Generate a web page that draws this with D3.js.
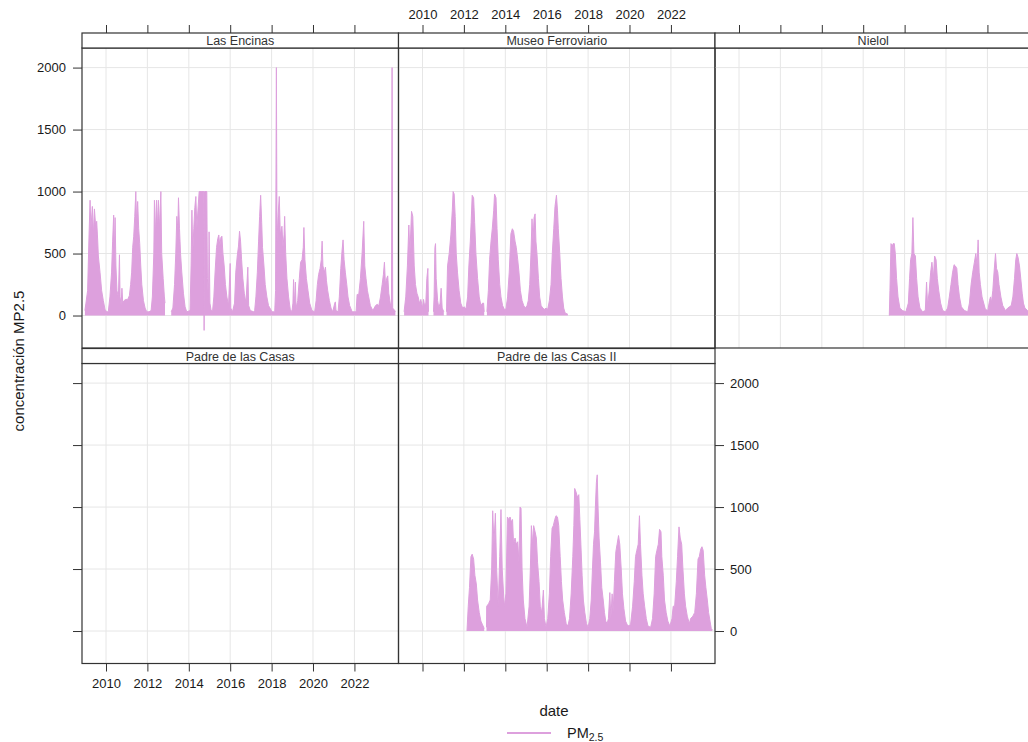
<!DOCTYPE html>
<html>
<head>
<meta charset="utf-8">
<script src="https://cdn.jsdelivr.net/npm/d3@7"></script>
<style>
  html, body { margin: 0; padding: 0; background: #fff; }
  svg { display: block; font-family: "Liberation Sans", Arial, Helvetica, sans-serif; }
</style>
</head>
<body>
<svg id="chart" width="1028" height="742"></svg>
<script>
// ---------------- DATA ----------------
const stationNames = ["Las Encinas", "Museo Ferroviario", "Nielol", "Padre de las Casas", "Padre de las Casas II"];
const xTickYears = [2010, 2012, 2014, 2016, 2018, 2020, 2022];
const yTickValues = [0, 500, 1000, 1500, 2000];
const seriesName = "PM";
const seriesSub = "2.5";
const yAxisTitle = "concentración MP2.5";
const xAxisTitle = "date";

// [decimal year, PM2.5] ; null = missing data
const lasEncinas = [
  [2008.98,40],[2009.03,100],[2009.11,200],[2009.18,650],[2009.23,930],[2009.27,700],[2009.34,880],[2009.39,650],
  [2009.44,860],[2009.50,720],[2009.55,760],[2009.60,600],[2009.63,480],[2009.71,350],[2009.79,200],[2009.87,120],
  [2009.95,50],[2010.03,30],[2010.11,30],[2010.19,150],[2010.27,350],[2010.32,600],[2010.37,810],[2010.40,500],
  [2010.44,790],[2010.48,400],[2010.53,200],[2010.60,150],[2010.65,490],[2010.68,150],[2010.73,80],[2010.77,220],
  [2010.81,100],[2010.87,120],[2010.95,130],[2011.05,130],[2011.13,160],[2011.19,250],[2011.24,350],[2011.29,550],
  [2011.34,640],[2011.39,800],[2011.44,1000],[2011.48,750],[2011.53,920],[2011.58,700],[2011.63,580],[2011.68,400],
  [2011.73,250],[2011.81,120],[2011.89,60],[2011.97,30],[2012.08,30],[2012.18,40],[2012.24,150],[2012.31,500],
  [2012.34,930],[2012.39,650],[2012.44,930],[2012.48,700],[2012.53,930],[2012.58,700],[2012.65,1000],[2012.69,500],
  [2012.76,300],[2012.82,150],[2012.85,100],[2012.86,null],[2013.15,30],[2013.23,60],[2013.31,250],[2013.37,500],
  [2013.42,800],[2013.47,700],[2013.50,950],[2013.55,700],[2013.60,500],[2013.66,350],[2013.74,180],[2013.82,70],
  [2013.90,30],[2014.06,40],[2014.11,400],[2014.15,850],[2014.19,500],[2014.24,700],[2014.29,870],[2014.34,960],
  [2014.39,700],[2014.44,850],[2014.50,1000],[2014.63,1000],[2014.73,1000],[2014.74,-120],[2014.76,1000],[2014.87,1000],
  [2014.90,300],[2014.95,120],[2014.98,675],[2015.02,100],[2015.08,40],[2015.15,40],[2015.21,150],[2015.27,350],
  [2015.34,550],[2015.40,620],[2015.45,650],[2015.50,560],[2015.55,630],[2015.60,640],[2015.65,500],[2015.71,400],
  [2015.77,250],[2015.84,150],[2015.92,80],[2016.00,420],[2016.03,60],[2016.11,30],[2016.21,100],[2016.27,350],
  [2016.34,480],[2016.40,560],[2016.45,680],[2016.50,600],[2016.55,450],[2016.61,300],[2016.68,180],[2016.76,100],
  [2016.85,390],[2016.89,80],[2016.97,40],[2017.13,30],[2017.18,40],[2017.24,150],[2017.31,350],[2017.37,600],
  [2017.42,800],[2017.47,970],[2017.52,750],[2017.56,550],[2017.63,400],[2017.69,250],[2017.77,150],[2017.85,80],
  [2018.02,30],[2018.15,30],[2018.19,200],[2018.23,2000],[2018.26,600],[2018.31,800],[2018.37,960],[2018.42,650],
  [2018.47,700],[2018.50,720],[2018.55,550],[2018.60,650],[2018.63,800],[2018.68,500],[2018.74,300],[2018.82,150],
  [2018.90,50],[2018.98,30],[2019.03,100],[2019.06,290],[2019.10,80],[2019.15,270],[2019.18,60],[2019.26,120],
  [2019.34,300],[2019.40,430],[2019.47,450],[2019.53,550],[2019.56,710],[2019.61,450],[2019.68,300],[2019.76,200],
  [2019.84,100],[2019.95,40],[2020.08,30],[2020.15,120],[2020.21,250],[2020.27,330],[2020.34,380],[2020.40,450],
  [2020.44,600],[2020.48,400],[2020.55,350],[2020.60,390],[2020.65,280],[2020.71,200],[2020.79,120],[2020.87,60],
  [2020.95,30],[2021.05,100],[2021.08,110],[2021.11,40],[2021.21,30],[2021.27,150],[2021.34,380],[2021.40,520],
  [2021.45,610],[2021.50,450],[2021.56,350],[2021.63,250],[2021.69,150],[2021.77,80],[2021.89,30],[2022.08,30],
  [2022.13,170],[2022.21,170],[2022.29,300],[2022.37,500],[2022.45,760],[2022.50,400],[2022.56,300],[2022.63,200],
  [2022.69,150],[2022.77,80],[2022.89,40],[2023.02,80],[2023.10,90],[2023.18,80],[2023.26,150],[2023.34,250],
  [2023.40,330],[2023.45,430],[2023.50,250],[2023.56,300],[2023.61,320],[2023.66,180],[2023.73,100],[2023.79,60],
  [2023.82,2000],[2023.85,60],[2023.95,40],[2023.98,30]
];

const museoFerroviario = [
  [2009.11,30],[2009.19,150],[2009.27,400],[2009.34,730],[2009.39,500],[2009.47,840],[2009.53,800],[2009.60,400],
  [2009.66,250],[2009.73,180],[2009.79,150],[2009.85,100],[2009.92,130],[2010.00,60],[2010.05,130],[2010.10,80],
  [2010.16,100],[2010.21,300],[2010.26,380],[2010.29,30],[2010.30,null],[2010.53,30],[2010.56,150],[2010.60,550],
  [2010.63,580],[2010.66,300],[2010.73,120],[2010.79,60],[2010.85,100],[2010.90,220],[2010.95,60],[2011.03,30],
  [2011.04,null],[2011.16,30],[2011.21,400],[2011.29,500],[2011.37,650],[2011.44,850],[2011.48,1000],[2011.53,980],
  [2011.58,800],[2011.63,500],[2011.69,350],[2011.77,200],[2011.85,100],[2011.94,60],[2012.02,70],[2012.10,50],
  [2012.18,150],[2012.24,400],[2012.31,600],[2012.35,750],[2012.40,970],[2012.47,950],[2012.52,750],[2012.58,500],
  [2012.66,300],[2012.74,150],[2012.82,80],[2012.90,100],[2012.95,100],[2012.98,30],[2012.99,null],[2013.11,30],
  [2013.18,200],[2013.24,450],[2013.31,600],[2013.37,700],[2013.44,850],[2013.48,980],[2013.55,950],[2013.60,700],
  [2013.66,450],[2013.73,250],[2013.79,150],[2013.87,80],[2013.95,50],[2014.03,50],[2014.11,150],[2014.19,350],
  [2014.27,660],[2014.34,700],[2014.40,680],[2014.47,600],[2014.53,550],[2014.60,450],[2014.66,350],[2014.73,200],
  [2014.81,120],[2014.89,80],[2014.97,60],[2015.05,80],[2015.11,120],[2015.18,250],[2015.24,500],[2015.29,780],
  [2015.34,600],[2015.39,790],[2015.44,820],[2015.48,600],[2015.53,500],[2015.60,300],[2015.66,150],[2015.73,80],
  [2015.81,60],[2015.89,50],[2015.97,60],[2016.05,50],[2016.13,120],[2016.21,250],[2016.27,500],[2016.34,700],
  [2016.40,880],[2016.47,970],[2016.52,850],[2016.56,700],[2016.63,500],[2016.69,300],[2016.76,150],[2016.82,60],
  [2016.89,20],[2017.02,10]
];

const nielol = [
  [2017.26,0],[2017.29,200],[2017.34,580],[2017.40,560],[2017.45,580],[2017.50,580],[2017.55,500],[2017.61,300],
  [2017.68,150],[2017.77,60],[2017.90,40],[2018.06,30],[2018.18,100],[2018.24,300],[2018.29,450],[2018.35,500],
  [2018.40,790],[2018.45,500],[2018.52,480],[2018.58,300],[2018.65,150],[2018.74,60],[2018.87,30],[2019.00,40],
  [2019.06,270],[2019.11,80],[2019.19,200],[2019.26,350],[2019.32,430],[2019.39,300],[2019.45,480],[2019.52,450],
  [2019.58,300],[2019.65,200],[2019.74,100],[2019.84,40],[2019.97,30],[2020.08,60],[2020.16,150],[2020.24,250],
  [2020.32,350],[2020.39,410],[2020.45,400],[2020.52,380],[2020.58,250],[2020.65,150],[2020.74,70],[2020.89,40],
  [2021.05,30],[2021.13,100],[2021.21,250],[2021.29,350],[2021.37,430],[2021.44,500],[2021.50,400],[2021.55,610],
  [2021.60,350],[2021.66,250],[2021.74,150],[2021.82,100],[2021.90,50],[2022.02,40],[2022.10,120],[2022.15,150],
  [2022.19,100],[2022.26,200],[2022.32,350],[2022.39,500],[2022.44,380],[2022.50,350],[2022.56,250],[2022.65,150],
  [2022.74,80],[2022.87,40],[2022.98,60],[2023.06,70],[2023.15,80],[2023.23,150],[2023.31,300],[2023.37,450],
  [2023.42,500],[2023.48,470],[2023.55,400],[2023.61,300],[2023.68,180],[2023.74,100],[2023.81,60],[2023.94,40],
  [2024.00,30]
];

const padreDeLasCasas = [];

const padreDeLasCasasII = [
  [2012.15,0],[2012.21,200],[2012.27,350],[2012.34,600],[2012.40,620],[2012.47,580],[2012.53,450],[2012.60,380],
  [2012.66,250],[2012.74,150],[2012.82,80],[2012.90,50],[2012.98,20],[2012.99,null],[2013.09,30],[2013.10,200],
  [2013.19,220],[2013.27,250],[2013.34,500],[2013.39,970],[2013.45,700],[2013.52,950],[2013.58,500],[2013.66,200],
  [2013.73,600],[2013.79,980],[2013.85,500],[2013.95,200],[2014.03,300],[2014.10,920],[2014.16,900],[2014.23,920],
  [2014.29,880],[2014.35,900],[2014.40,700],[2014.47,750],[2014.53,700],[2014.60,720],[2014.66,550],[2014.71,1000],
  [2014.76,990],[2014.81,500],[2014.87,250],[2014.95,100],[2015.05,30],[2015.15,200],[2015.21,500],[2015.26,850],
  [2015.31,700],[2015.37,850],[2015.44,800],[2015.50,750],[2015.56,550],[2015.63,400],[2015.69,200],[2015.76,150],
  [2015.84,330],[2015.89,100],[2015.97,30],[2016.05,100],[2016.13,300],[2016.19,600],[2016.26,830],[2016.32,850],
  [2016.39,900],[2016.45,930],[2016.52,920],[2016.58,850],[2016.65,600],[2016.71,400],[2016.77,250],[2016.85,150],
  [2016.94,60],[2017.02,40],[2017.10,100],[2017.18,300],[2017.26,600],[2017.31,850],[2017.35,1150],[2017.42,1120],
  [2017.48,1080],[2017.55,1100],[2017.60,900],[2017.65,700],[2017.71,450],[2017.77,250],[2017.84,150],[2017.92,60],
  [2018.00,30],[2018.08,100],[2018.15,250],[2018.21,500],[2018.26,700],[2018.31,800],[2018.35,1000],[2018.40,1200],
  [2018.44,1260],[2018.48,1000],[2018.53,750],[2018.60,550],[2018.66,350],[2018.73,250],[2018.79,150],[2018.85,80],
  [2018.92,60],[2018.98,100],[2019.05,310],[2019.10,100],[2019.16,300],[2019.21,150],[2019.27,400],[2019.34,640],
  [2019.40,700],[2019.47,770],[2019.53,700],[2019.60,500],[2019.66,300],[2019.73,180],[2019.81,80],[2019.92,40],
  [2020.05,50],[2020.15,200],[2020.23,400],[2020.29,600],[2020.35,650],[2020.42,700],[2020.48,930],[2020.53,700],
  [2020.60,450],[2020.66,300],[2020.73,200],[2020.81,100],[2020.89,40],[2021.02,30],[2021.11,100],[2021.19,300],
  [2021.26,600],[2021.32,650],[2021.39,700],[2021.45,820],[2021.52,800],[2021.56,600],[2021.63,450],[2021.69,250],
  [2021.77,150],[2021.85,80],[2021.95,40],[2022.05,100],[2022.11,200],[2022.18,200],[2022.26,400],[2022.32,600],
  [2022.39,840],[2022.45,750],[2022.52,700],[2022.58,500],[2022.65,300],[2022.71,200],[2022.79,120],[2022.89,60],
  [2022.95,100],[2023.06,120],[2023.15,150],[2023.23,300],[2023.31,580],[2023.37,600],[2023.44,660],[2023.50,680],
  [2023.56,650],[2023.63,450],[2023.69,350],[2023.76,250],[2023.82,150],[2023.89,80],[2023.95,20],[2024.00,10]
];

const stationSeries = [lasEncinas, museoFerroviario, nielol, padreDeLasCasas, padreDeLasCasasII];

// ---------------- LAYOUT ----------------
const plumColor = "#DDA0DD";
const panelW = 316.5, panelH = 300, stripH = 15;
const colLeft = c => 82 + c * panelW;
const rowTop = r => 33 + r * 315.5;        // strip top
const panelCells = [[0,0],[0,1],[0,2],[1,0],[1,1]]; // [row, col]

const toDate = d => {
  const yr = Math.floor(d);
  const s = Date.UTC(yr, 0, 1), e = Date.UTC(yr + 1, 0, 1);
  return new Date(s + (d - yr) * (e - s));
};

const x = d3.scaleUtc().domain([toDate(2008.84), toDate(2024.13)]).range([0, panelW]);
const y = d3.scaleLinear().domain([-262, 2158]).range([panelH, 0]);
const xTickDates = xTickYears.map(yr => new Date(Date.UTC(yr, 0, 1)));
const yFmt = d3.format("d");

const svg = d3.select("#chart");
const defs = svg.append("defs");
defs.append("clipPath").attr("id", "pclip")
  .append("rect").attr("x", 0).attr("y", 0).attr("width", panelW).attr("height", panelH);

const area = d3.area()
  .defined(d => d[1] !== null)
  .x(d => x(toDate(d[0])))
  .y0(y(0))
  .y1(d => y(d[1]));
const line = d3.line()
  .defined(d => d[1] !== null)
  .x(d => x(toDate(d[0])))
  .y(d => y(d[1]));

function styleAxis(g, showLabels) {
  g.select(".domain").remove();
  g.selectAll(".tick line").attr("stroke", "#333").attr("stroke-width", 1);
  g.selectAll(".tick text").attr("fill", "#1a1a1a").style("font-size", "13px")
    .style("font-family", '"Liberation Sans", Arial, sans-serif');
  if (!showLabels) g.selectAll(".tick text").remove();
}

panelCells.forEach(([r, c], i) => {
  const left = colLeft(c);
  const stripTop = rowTop(r);
  const top = stripTop + stripH;
  const g = svg.append("g").attr("transform", `translate(${left},${top})`);

  // grid
  g.append("g").selectAll("line.vg").data(xTickDates).join("line")
    .attr("x1", d => x(d)).attr("x2", d => x(d)).attr("y1", 0).attr("y2", panelH)
    .attr("stroke", "#e6e6e6").attr("stroke-width", 1);
  g.append("g").selectAll("line.hg").data(yTickValues).join("line")
    .attr("x1", 0).attr("x2", panelW).attr("y1", d => y(d)).attr("y2", d => y(d))
    .attr("stroke", "#e6e6e6").attr("stroke-width", 1);

  // series
  const data = stationSeries[i];
  const sg = g.append("g").attr("clip-path", "url(#pclip)");
  if (data.length) {
    sg.append("path").datum(data).attr("d", area).attr("fill", plumColor).attr("stroke", "none");
    sg.append("path").datum(data).attr("d", line).attr("fill", "none")
      .attr("stroke", plumColor).attr("stroke-width", 1);
  }

  // border
  g.append("rect").attr("x", 0).attr("y", 0).attr("width", panelW).attr("height", panelH)
    .attr("fill", "none").attr("stroke", "#333").attr("stroke-width", 1.2);

  // strip
  svg.append("rect").attr("x", left).attr("y", stripTop).attr("width", panelW).attr("height", stripH)
    .attr("fill", "#fff").attr("stroke", "#333").attr("stroke-width", 1.2);
  svg.append("text").attr("x", left + panelW / 2).attr("y", stripTop + stripH / 2 + 4.5)
    .attr("text-anchor", "middle").attr("fill", "#333").style("font-size", "12.5px")
    .text(stationNames[i]);

  // top axes (row 0): ticks on all, labels on middle column
  if (r === 0) {
    const ta = svg.append("g").attr("transform", `translate(${left},${stripTop})`)
      .call(d3.axisTop(x).tickValues(xTickDates).tickFormat(d3.utcFormat("%Y")).tickSize(8).tickPadding(6));
    styleAxis(ta, c === 1);
  }
  // bottom axes (row 1)
  if (r === 1) {
    const ba = g.append("g").attr("transform", `translate(0,${panelH})`)
      .call(d3.axisBottom(x).tickValues(xTickDates).tickFormat(d3.utcFormat("%Y")).tickSize(8).tickPadding(7));
    styleAxis(ba, c === 0);
  }
  // left axes (column 0)
  if (c === 0) {
    const la = g.append("g")
      .call(d3.axisLeft(y).tickValues(yTickValues).tickFormat(yFmt).tickSize(9).tickPadding(7));
    styleAxis(la, r === 0);
  }
  // right axis: last panel of bottom row
  if (r === 1 && c === 1) {
    const ra = g.append("g").attr("transform", `translate(${panelW},0)`)
      .call(d3.axisRight(y).tickValues(yTickValues).tickFormat(yFmt).tickSize(9).tickPadding(6));
    styleAxis(ra, true);
  }
});

// axis titles
svg.append("text")
  .attr("transform", "translate(24,361) rotate(-90)")
  .attr("text-anchor", "middle").attr("fill", "#1a1a1a").style("font-size", "15px")
  .text(yAxisTitle);
svg.append("text")
  .attr("x", 554).attr("y", 716)
  .attr("text-anchor", "middle").attr("fill", "#1a1a1a").style("font-size", "15px")
  .text(xAxisTitle);

// legend
svg.append("line").attr("x1", 507).attr("x2", 551).attr("y1", 733).attr("y2", 733)
  .attr("stroke", plumColor).attr("stroke-width", 2);
const lt = svg.append("text").attr("x", 567).attr("y", 738).attr("fill", "#1a1a1a").style("font-size", "14.5px");
lt.append("tspan").text(seriesName);
lt.append("tspan").attr("dy", 3).style("font-size", "10.5px").text(seriesSub);
</script>
</body>
</html>
